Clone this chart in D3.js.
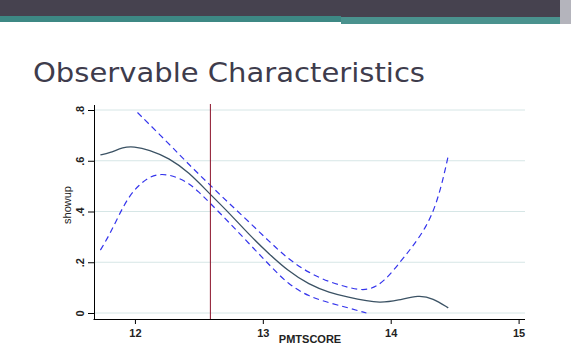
<!DOCTYPE html>
<html>
<head>
<meta charset="utf-8">
<script src="https://cdnjs.cloudflare.com/ajax/libs/d3/7.8.5/d3.min.js"></script>
<style>
  body { margin: 0; background: #fff; }
  svg { display: block; }
</style>
</head>
<body>
<script>
// fitted showup curve and its confidence band
const fitX = [11.73, 11.80, 11.91, 11.99, 12.11, 12.27, 12.42, 12.58, 12.73, 12.89, 13.05, 13.20, 13.36, 13.52, 13.67, 13.82, 13.91, 14.06, 14.22, 14.33, 14.45];
const fitY = [0.623, 0.63, 0.654, 0.656, 0.644, 0.61, 0.555, 0.472, 0.398, 0.31, 0.232, 0.165, 0.112, 0.08, 0.062, 0.047, 0.04, 0.05, 0.071, 0.058, 0.02];

const upX = [12.02, 12.27, 12.42, 12.58, 12.73, 12.89, 13.05, 13.20, 13.36, 13.52, 13.67, 13.82, 13.95, 14.08, 14.17, 14.28, 14.36, 14.42, 14.45];
const upY = [0.79, 0.665, 0.586, 0.508, 0.435, 0.36, 0.282, 0.212, 0.158, 0.122, 0.1, 0.085, 0.123, 0.205, 0.261, 0.34, 0.433, 0.55, 0.62];

const loX = [11.73, 11.80, 11.875, 11.95, 12.03, 12.11, 12.19, 12.27, 12.34, 12.42, 12.50, 12.58, 12.73, 12.89, 13.05, 13.20, 13.36, 13.52, 13.67, 13.81];
const loY = [0.248, 0.307, 0.386, 0.457, 0.504, 0.536, 0.548, 0.544, 0.532, 0.512, 0.477, 0.437, 0.36, 0.275, 0.19, 0.112, 0.065, 0.04, 0.02, 0.0];

const cutoff = 12.59;
const xTicks = [12, 13, 14, 15];
const yTicks = [0, 0.2, 0.4, 0.6, 0.8];
const yTickLabels = ["0", ".2", ".4", ".6", ".8"];

const w = 571, h = 347;
const svg = d3.select('body').append('svg')
  .attr('width', w).attr('height', h);

// slide header bands
svg.append('rect').attr('x', 0).attr('y', 0).attr('width', 560).attr('height', 17).attr('fill', '#46424f');
svg.append('rect').attr('x', 0).attr('y', 16).attr('width', 341).attr('height', 6).attr('fill', '#3d8884');
svg.append('rect').attr('x', 341).attr('y', 17).attr('width', 219).attr('height', 7).attr('fill', '#4a928e');
svg.append('rect').attr('x', 560).attr('y', 0).attr('width', 11).attr('height', 24).attr('fill', '#b4b4bc');

// title
svg.append('text')
  .attr('x', 33).attr('y', 82)
  .attr('textLength', 392).attr('lengthAdjust', 'spacingAndGlyphs')
  .style('font-family', 'DejaVu Sans')
  .style('font-size', '27px')
  .style('fill', '#3e3c4c')
  .text('Observable Characteristics');

// scales
const xScale = d3.scaleLinear().domain([11.68, 15.05]).range([94, 525]);
const yScale = d3.scaleLinear().domain([0, 0.8]).range([313, 110]);

// gridlines
svg.append('g').selectAll('line')
  .data(yTicks).enter().append('line')
  .attr('x1', 95).attr('x2', 525)
  .attr('y1', d => yScale(d)).attr('y2', d => yScale(d))
  .attr('stroke', '#d6e6e6').attr('stroke-width', 1);

// axes
const xAxis = d3.axisBottom(xScale).tickValues(xTicks).tickSize(5).tickSizeOuter(0).tickFormat(d3.format('d'));
const gx = svg.append('g').attr('transform', 'translate(0, 319)').call(xAxis);
gx.select('.domain').attr('d', 'M93.5,0.5H525');
gx.selectAll('text').attr('dy', '0.9em')
  .style('font-family', 'Liberation Sans').style('font-size', '11px').style('font-weight', 'bold').style('fill', '#222');

const yAxis = d3.axisLeft(yScale).tickValues(yTicks).tickSize(6).tickSizeOuter(0);
const gy = svg.append('g').attr('transform', 'translate(94, 0)').call(yAxis);
gy.select('.domain').attr('d', 'M0.5,105V319.5');
gy.selectAll('.tick text')
  .text((d, i) => yTickLabels[i])
  .attr('x', 0).attr('y', 0).attr('dy', 0)
  .attr('text-anchor', 'middle')
  .attr('transform', 'translate(-10, 0) rotate(-90)')
  .style('font-family', 'Liberation Sans').style('font-size', '11px').style('font-weight', 'bold').style('fill', '#222');

// axis titles
svg.append('text')
  .attr('x', 310).attr('y', 343)
  .attr('text-anchor', 'middle')
  .style('font-family', 'Liberation Sans').style('font-size', '11px').style('font-weight', 'bold').style('fill', '#222')
  .text('PMTSCORE');

svg.append('text')
  .attr('transform', 'translate(71, 205) rotate(-90)')
  .attr('text-anchor', 'middle')
  .style('font-family', 'Liberation Sans').style('font-size', '11px').style('fill', '#222')
  .text('showup');

// curves
const line = d3.line()
  .x(d => xScale(d[0]))
  .y(d => yScale(d[1]))
  .curve(d3.curveBasis);

const band = [[upX, upY], [loX, loY]];
band.forEach(s => {
  svg.append('path')
    .datum(s[0].map((v, i) => [v, s[1][i]]))
    .attr('d', line)
    .attr('fill', 'none')
    .attr('stroke', '#3434ec')
    .attr('stroke-width', 1.2)
    .attr('stroke-dasharray', '6,4');
});

svg.append('path')
  .datum(fitX.map((v, i) => [v, fitY[i]]))
  .attr('d', line)
  .attr('fill', 'none')
  .attr('stroke', '#3b5264')
  .attr('stroke-width', 1.3);

// cutoff line
svg.append('line')
  .attr('x1', xScale(cutoff)).attr('x2', xScale(cutoff))
  .attr('y1', 104).attr('y2', 319)
  .attr('stroke', '#8a1028').attr('stroke-width', 1);
</script>
</body>
</html>
